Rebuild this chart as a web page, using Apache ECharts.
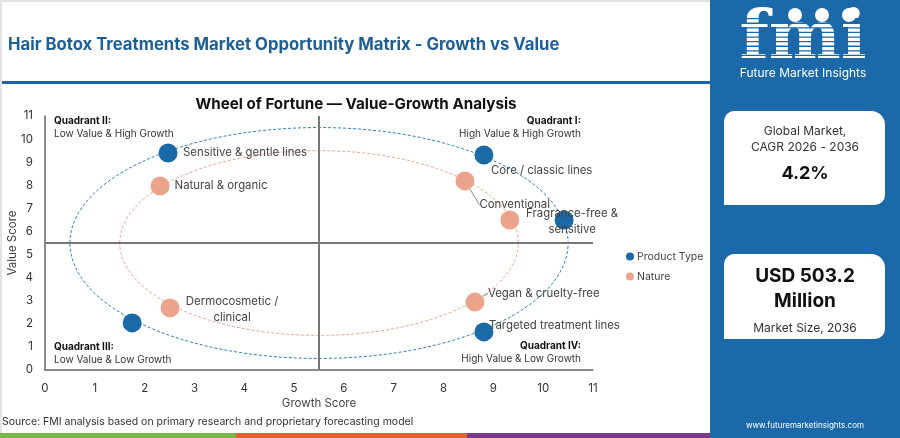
<!DOCTYPE html>
<html><head><meta charset="utf-8">
<script src="https://cdn.jsdelivr.net/npm/echarts@6/dist/echarts.min.js"></script>
<style>html,body{margin:0;padding:0;background:#fff}#c{width:900px;height:438px}</style>
</head><body><div id="c"></div>
<script>
// ---- data ----
const productNames = ['Sensitive & gentle lines','Core / classic lines','Fragrance-free & sensitive','Targeted treatment lines','Product type (unlabelled)'];
const productGrowth = [2.47, 8.81, 10.42, 8.81, 1.75];
const productValue  = [9.40, 9.31, 6.50, 1.65, 2.04];
const natureNames = ['Natural & organic','Conventional','Nature (unlabelled)','Vegan & cruelty-free','Dermocosmetic / clinical'];
const natureGrowth = [2.31, 8.43, 9.33, 8.63, 2.51];
const natureValue  = [7.97, 8.19, 6.50, 2.94, 2.69];
const ringCenterGrowth = [5.5, 5.5];
const ringCenterValue  = [5.5, 5.5];
const ringRadius       = [5, 4];
const quadrantSplit = 5.5;
const axisMin = 0, axisMax = 11, axisStep = 1;

// ---- styles ----
const BLUE = '#1b6aa8', ORANGE = '#eca38c';
const FONT = 'Inter, "Noto Sans", sans-serif';
const productLabelStyle = [
  {position:'right', offset:[0.5,0]},
  {position:'right', offset:[-7.5,16]},
  {position:'inside', align:'center', offset:[8,2], formatter:'Fragrance-free &\nsensitive'},
  {position:'right', offset:[-9.5,-6]},
  {show:false}
];
const natureLabelStyle = [
  {position:'right', offset:[1.5,0]},
  {position:'right'},
  {show:false},
  {position:'right'},
  {position:'inside', align:'center', formatter:'Dermocosmetic /\nclinical'}
];
const natureLayout = [null, {dx:0, dy:24}, null, {dx:-1.5, dy:-9}, {dx:62, dy:2}];
const natureGuide = [false, true, false, true, false];

function pts(names, gx, vy, lbl){
  return names.map((n,i)=>({name:n, value:[gx[i], vy[i]], label: lbl[i]}));
}
const natureData = pts(natureNames, natureGrowth, natureValue, natureLabelStyle);
natureData.forEach((d,i)=>{ d.labelLine = {show: natureGuide[i]}; });

const ringData = ringRadius.map((r,i)=>[ringCenterGrowth[i], ringCenterValue[i], r]);
const ringColors = ['#2f80c2', '#f0a591'];

const chart = echarts.init(document.getElementById('c'));
const labelBase = {show:true, color:'#444', fontSize:11.4, fontFamily:FONT, lineHeight:16, formatter:'{b}'};

chart.setOption({
  animation:false,
  textStyle:{fontFamily:FONT},
  grid:{left:45, right:307, top:116, bottom:68, containLabel:false, outerBoundsMode:'none'},
  xAxis:{type:'value', min:axisMin, max:axisMax, interval:axisStep,
    name:'Growth Score', nameLocation:'middle', nameGap:28, nameMoveOverlap:false,
    nameTextStyle:{color:'#444', fontSize:11.5, fontFamily:FONT},
    axisLine:{show:true, lineStyle:{color:'#666', width:1.5}},
    axisTick:{show:false}, splitLine:{show:false},
    axisLabel:{color:'#333', fontSize:11.5, margin:13, fontFamily:FONT}},
  yAxis:{type:'value', min:axisMin, max:axisMax, interval:axisStep,
    name:'Value Score', nameLocation:'middle', nameGap:26, nameMoveOverlap:false,
    nameTextStyle:{color:'#444', fontSize:11.5, fontFamily:FONT},
    axisLine:{show:true, lineStyle:{color:'#666', width:1.5}},
    axisTick:{show:false}, splitLine:{show:false},
    axisLabel:{color:'#333', fontSize:11.5, margin:12, fontFamily:FONT}},
  legend:{orient:'vertical', left:621, top:246, itemWidth:8, itemHeight:8, itemGap:9,
    icon:'circle', textStyle:{color:'#444', fontSize:10.5, fontFamily:FONT, padding:[0,0,0,-2]},
    data:['Product Type','Nature']},
  series:[
    {type:'custom', name:'rings', silent:true, z:1,
      data: ringData,
      renderItem:function(params, api){
        const c = api.coord([api.value(0), api.value(1)]);
        const s = api.size([api.value(2), api.value(2)]);
        return {type:'ellipse', shape:{cx:c[0], cy:c[1], rx:s[0], ry:s[1]},
          style:{fill:null, stroke:ringColors[params.dataIndex], lineWidth:1, lineDash:[3,2]}};
      },
      markLine:{silent:true, symbol:['none','none'], label:{show:false},
        lineStyle:{color:'#777', width:2, type:'solid'},
        data:[{xAxis:quadrantSplit},{yAxis:quadrantSplit}]}
    },
    {type:'scatter', name:'Product Type', symbolSize:19, z:3,
      itemStyle:{color:BLUE, opacity:1},
      label:labelBase,
      data: pts(productNames, productGrowth, productValue, productLabelStyle)},
    {type:'scatter', name:'Nature', symbolSize:19, z:3,
      itemStyle:{color:ORANGE, opacity:1},
      label:labelBase,
      labelLine:{show:true, lineStyle:{color:'#888', width:1}},
      labelLayout:function(p){ return natureLayout[p.dataIndex] || {}; },
      data: natureData}
  ],
  graphic:[
    {type:'rect', shape:{x:0,y:0,width:710,height:2}, style:{fill:'#e4e4e4'}, silent:true},
    {type:'rect', shape:{x:0,y:0,width:2,height:438}, style:{fill:'#e4e4e4'}, silent:true},
    {type:'text', x:8, y:45, style:{text:'Hair Botox Treatments Market Opportunity Matrix - Growth vs Value', fill:'#1c5f96', font:'bold 16.7px '+FONT, verticalAlign:'middle'}},
    {type:'rect', shape:{x:2,y:81,width:708,height:3}, style:{fill:'#1b65a3'}},
    {type:'text', x:356, y:104, style:{text:'Wheel of Fortune \u2014 Value-Growth Analysis', fill:'#111', font:'bold 15.2px '+FONT, align:'center', verticalAlign:'middle'}},
    // quadrant labels
    {type:'text', x:54, y:121, style:{text:'Quadrant II:', fill:'#111', font:'bold 10px '+FONT, verticalAlign:'middle'}},
    {type:'text', x:54, y:134, style:{text:'Low Value & High Growth', fill:'#333', font:'10px '+FONT, verticalAlign:'middle'}},
    {type:'text', x:581, y:121, style:{text:'Quadrant I:', fill:'#111', font:'bold 10px '+FONT, align:'right', verticalAlign:'middle'}},
    {type:'text', x:581, y:134, style:{text:'High Value & High Growth', fill:'#333', font:'10px '+FONT, align:'right', verticalAlign:'middle'}},
    {type:'text', x:54, y:347, style:{text:'Quadrant III:', fill:'#111', font:'bold 10px '+FONT, verticalAlign:'middle'}},
    {type:'text', x:54, y:360, style:{text:'Low Value & Low Growth', fill:'#333', font:'10px '+FONT, verticalAlign:'middle'}},
    {type:'text', x:581, y:346, style:{text:'Quadrant IV:', fill:'#111', font:'bold 10px '+FONT, align:'right', verticalAlign:'middle'}},
    {type:'text', x:581, y:359, style:{text:'High Value & Low Growth', fill:'#333', font:'10px '+FONT, align:'right', verticalAlign:'middle'}},
    // source + stripes
    {type:'text', x:2, y:422, style:{text:'Source: FMI analysis based on primary research and proprietary forecasting model', fill:'#333', font:'10.5px '+FONT, verticalAlign:'middle'}},
    {type:'rect', shape:{x:0,y:433,width:236,height:5}, style:{fill:'#7ab648'}},
    {type:'rect', shape:{x:236,y:433,width:231,height:5}, style:{fill:'#e0622f'}},
    {type:'rect', shape:{x:467,y:433,width:243,height:5}, style:{fill:'#7b3b8c'}},
    // right panel
    {type:'rect', shape:{x:710,y:0,width:190,height:438}, style:{fill:'#1b69a9'}},
    {type:'text', x:803, y:40, style:{text:'fmi', fill:'#fff', font:'bold 68px "DejaVu Serif", serif', align:'center', verticalAlign:'middle'}},
    {type:'group', children:[0,1,2,3,4,5,6,7,8,9,10].map(k=>({type:'rect', shape:{x:736,y:18+k*4.6,width:134,height:1.3}, style:{fill:'#1b69a9'}}))},
    {type:'circle', shape:{cx:795,cy:15,r:7}, style:{fill:'#fff'}},
    {type:'circle', shape:{cx:822,cy:15,r:7}, style:{fill:'#fff'}},
    {type:'circle', shape:{cx:849,cy:15,r:7}, style:{fill:'#fff'}},
    {type:'text', x:803, y:73, style:{text:'Future Market Insights', fill:'#fff', font:'12px '+FONT, align:'center', verticalAlign:'middle'}},
    {type:'rect', shape:{x:724,y:111,width:161,height:94,r:[10,14,10,0]}, style:{fill:'#fff'}},
    {type:'text', x:805, y:131, style:{text:'Global Market,', fill:'#333', font:'12px '+FONT, align:'center', verticalAlign:'middle'}},
    {type:'text', x:805, y:147, style:{text:'CAGR 2026 - 2036', fill:'#333', font:'12px '+FONT, align:'center', verticalAlign:'middle'}},
    {type:'text', x:805, y:174, style:{text:'4.2%', fill:'#111', font:'bold 18px '+FONT, align:'center', verticalAlign:'middle'}},
    {type:'rect', shape:{x:724,y:254,width:161,height:85,r:[10,14,10,0]}, style:{fill:'#fff'}},
    {type:'text', x:805, y:276, style:{text:'USD 503.2', fill:'#111', font:'bold 19px '+FONT, align:'center', verticalAlign:'middle'}},
    {type:'text', x:805, y:301, style:{text:'Million', fill:'#111', font:'bold 19px '+FONT, align:'center', verticalAlign:'middle'}},
    {type:'text', x:805, y:328, style:{text:'Market Size, 2036', fill:'#333', font:'12px '+FONT, align:'center', verticalAlign:'middle'}},
    {type:'text', x:805, y:426, style:{text:'www.futuremarketinsights.com', fill:'#fff', font:'8px '+FONT, align:'center', verticalAlign:'middle'}}
  ]
});
</script></body></html>
